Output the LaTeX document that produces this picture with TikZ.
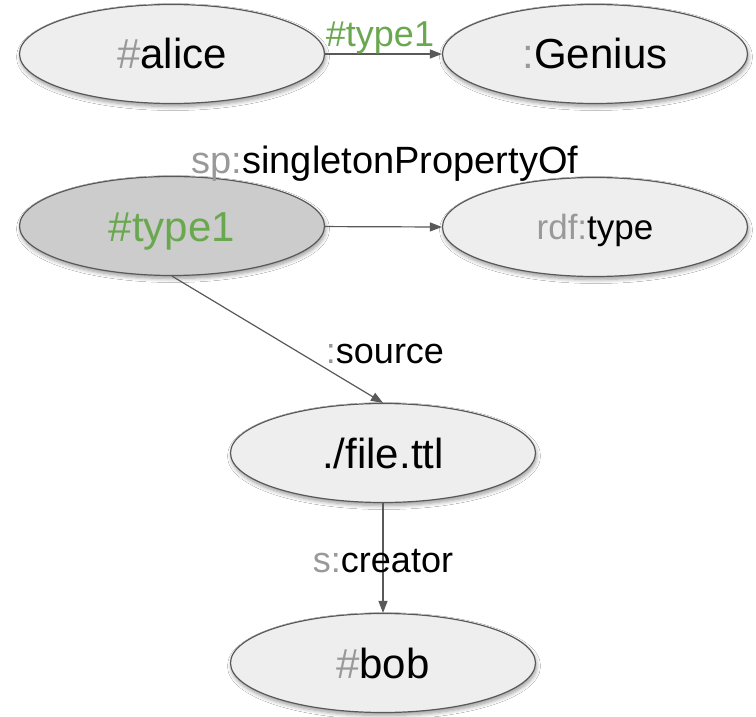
\documentclass[tikz,border=0pt]{standalone}
\usepackage{fontspec}
\setmainfont{Liberation Sans}
\usetikzlibrary{shapes.geometric,arrows.meta,shadows.blur}
\definecolor{pfx}{HTML}{999999}
\definecolor{grn}{HTML}{6AA84F}
\definecolor{lightfill}{HTML}{EEEEEE}
\definecolor{darkfill}{HTML}{CCCCCC}
\definecolor{edgecol}{HTML}{595959}
\begin{document}
\begin{tikzpicture}[x=1pt,y=-1pt,
  res/.style={ellipse, draw=edgecol, line width=1.2pt, fill=lightfill,
    minimum width=305pt, minimum height=99pt, inner sep=0pt,
    font=\fontsize{42}{48}\selectfont, text height=30pt, text depth=0pt,
    blur shadow={shadow blur steps=6, shadow xshift=1pt, shadow yshift=-3pt, shadow opacity=40, shadow blur radius=4pt}},
  link/.style={draw=edgecol, line width=1.2pt, -{Triangle[length=12pt,width=9pt]}},
  elabel/.style={font=\fontsize{36}{42}\selectfont, anchor=base, inner sep=0pt}]
\fill[white] (0,0) rectangle (756,717);
\useasboundingbox (0,0) rectangle (756,717);
\node[res] (alice) at (172,54) {\textcolor{pfx}{\#}alice};
\node[res] (genius) at (595,54) {\textcolor{pfx}{:}Genius};
\node[res, fill=darkfill] (type1) at (172,226) {\textcolor{grn}{\#type1}};
\node[res, font=\fontsize{35}{40}\selectfont, text height=25pt] (rdftype) at (595,227) {\textcolor{pfx}{rdf:}type};
\node[res] (file) at (383,453) {./file.ttl};
\node[res] (bob) at (383,663) {\textcolor{pfx}{\#}bob};
\draw[link] (alice) -- (genius);
\draw[link] (type1) -- (rdftype.west);
\draw[link] (type1.south) -- (file.north);
\draw[link] (file) -- (bob);
\node[elabel, text=grn] (l1) at (380,47) {\#type1};
\node[elabel, font=\fontsize{38}{44}\selectfont] (l2) at (385,173) {\textcolor{pfx}{sp:}singletonPropertyOf};
\node[elabel] (l3) at (385,363) {\textcolor{pfx}{:}source};
\node[elabel] (l4) at (383,572) {\textcolor{pfx}{s:}creator};
\end{tikzpicture}
\end{document}
